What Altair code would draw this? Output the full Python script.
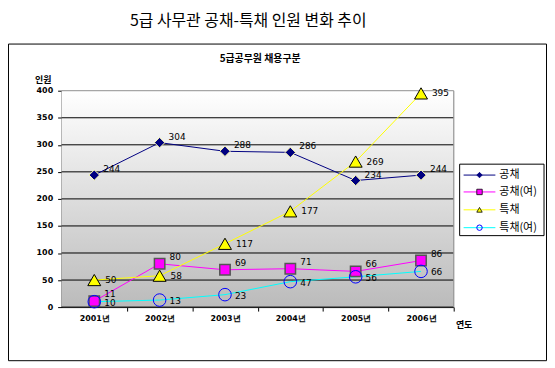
import altair as alt
import pandas as pd

years = ["2001년", "2002년", "2003년", "2004년", "2005년", "2006년"]
names = ["공채", "공채(여)", "특채", "특채(여)"]
gongchae = [244, 304, 288, 286, 234, 244]
gongchae_f = [11, 80, 69, 71, 66, 86]
teukchae = [50, 58, 117, 177, 269, 395]
teukchae_f = [10, 13, 23, 47, 56, 66]
y_ticks = [0, 50, 100, 150, 200, 250, 300, 350, 400]

series_values = [gongchae, gongchae_f, teukchae, teukchae_f]

styles = {
    "공채": dict(line="#000080", shape="diamond", size=110, fill="#000080", stroke="#FFFFB0", sw=1, dx=9, dy=-6),
    "공채(여)": dict(line="#FF00FF", shape="square", size=110, fill="#FF00FF", stroke="#555555", sw=1.5, dx=10, dy=-7),
    "특채": dict(line="#FFFF00", shape="triangle-up", size=170, fill="#FFFF00", stroke="#000000", sw=1, dx=11, dy=0),
    "특채(여)": dict(line="#00FFFF", shape="circle", size=160, fill=None, stroke="#0000FF", sw=1, dx=10, dy=1),
}

W, H = 395, 218
FONT = "DejaVu Sans"
KFONT = "Noto Sans CJK KR"

rows = []
for name, vals in zip(names, series_values):
    for yr, v in zip(years, vals):
        rows.append({"series": name, "year": yr, "value": v})
df = pd.DataFrame(rows)

x_axis = alt.Axis(
    title="연도", titleX=W + 10, titleY=18, titleAngle=0, titleAlign="center",
    titleBaseline="middle", titleFont=KFONT, titleFontSize=9, titleFontWeight="bold",
    labelAngle=0, labelFont=FONT, labelFontSize=8, labelFontWeight="bold",
    labelColor="#000000", labelPadding=4, tickSize=4, tickOffset=W / 12,
    labelOffset=-W / 12, tickColor="#000000", domainColor="#404040", grid=False,
)
y_axis = alt.Axis(
    values=y_ticks, title="인원", titleAngle=0, titleX=-19, titleY=-11,
    titleAlign="center", titleBaseline="middle", titleFont=KFONT, titleFontSize=9,
    titleFontWeight="bold", labelFont=FONT, labelFontSize=8, labelFontWeight="bold",
    labelColor="#000000", tickSize=4, tickColor="#000000", domainColor="#000000",
    grid=False, labelPadding=5,
)
y_scale = alt.Scale(domain=[0, 400], nice=False)

x_enc = alt.X("year:O", scale=alt.Scale(domain=years), axis=x_axis)
y_enc = alt.Y("value:Q", scale=y_scale, axis=y_axis)

one = pd.DataFrame({"a": [0]})

# gradient plot background
bg = alt.Chart(pd.DataFrame({"lo": [0], "hi": [400]})).mark_rect(
    color=alt.LinearGradient(
        gradient="linear", x1=0, x2=0, y1=0, y2=1,
        stops=[alt.GradientStop(offset=0, color="#FFFFFF"),
               alt.GradientStop(offset=1, color="#BBBBBB")],
    )
).encode(
    x=alt.value(0), x2=alt.value(W),
    y=alt.Y("hi:Q", scale=y_scale, axis=y_axis),
    y2="lo:Q",
)

grid_df = pd.DataFrame({"v": y_ticks, "c": ["#000000"] * 8 + ["#909090"]})
grid = alt.Chart(grid_df).mark_rule(strokeWidth=1).encode(
    y=alt.Y("v:Q", scale=y_scale, axis=y_axis),
    color=alt.Color("c:N", scale=None),
)

right_edge = alt.Chart(one).mark_rule(color="#909090").encode(
    x=alt.value(W), y=alt.value(0), y2=alt.value(H)
)

lines, points, texts = [], [], []
for name in names:
    st = styles[name]
    sub = alt.Chart(df).transform_filter(alt.datum.series == name)
    lines.append(sub.mark_line(color=st["line"], strokeWidth=1).encode(x=x_enc, y=y_enc))
    if st["fill"] is None:
        pm = sub.mark_point(shape=st["shape"], size=st["size"], filled=False,
                            stroke=st["stroke"], strokeWidth=st["sw"], opacity=1)
    else:
        pm = sub.mark_point(shape=st["shape"], size=st["size"], filled=True,
                            fill=st["fill"], stroke=st["stroke"], strokeWidth=st["sw"],
                            opacity=1, fillOpacity=1)
    points.append(pm.encode(x=x_enc, y=y_enc))
    texts.append(sub.mark_text(align="left", baseline="middle", dx=st["dx"], dy=st["dy"],
                               font=FONT, fontSize=9, color="#000000").encode(
        x=x_enc, y=y_enc, text="value:Q"))

# legend (drawn)
LX0, LX1, LY0, LY1 = 401, 486, 74, 146
legend_layers = [
    alt.Chart(one).mark_rect(fill="#FFFFFF", stroke="#000000", strokeWidth=1).encode(
        x=alt.value(LX0), x2=alt.value(LX1), y=alt.value(LY0), y2=alt.value(LY1))
]
entry_y = [85, 102, 120, 138]
for name, ey in zip(names, entry_y):
    st = styles[name]
    legend_layers.append(alt.Chart(one).mark_rule(color=st["line"], strokeWidth=1).encode(
        x=alt.value(405), x2=alt.value(437), y=alt.value(ey)))
    if st["fill"] is None:
        lp = alt.Chart(one).mark_point(shape=st["shape"], size=30, filled=False,
                                       stroke=st["stroke"], strokeWidth=1, opacity=1)
    else:
        lp = alt.Chart(one).mark_point(shape=st["shape"], size=30, filled=True,
                                       fill=st["fill"], stroke="#000000" if name != "공채" else st["fill"],
                                       strokeWidth=0.8, opacity=1)
    legend_layers.append(lp.encode(x=alt.value(421), y=alt.value(ey)))
    legend_layers.append(alt.Chart(one).mark_text(
        text=name, align="left", baseline="middle", font=KFONT, fontSize=11, color="#000000"
    ).encode(x=alt.value(441), y=alt.value(ey)))

# outer frame and titles
frame = alt.Chart(one).mark_rect(fill="#FFFFFF", fillOpacity=0, stroke="#000000", strokeWidth=1).encode(
    x=alt.value(-53.5), x2=alt.value(488.5), y=alt.value(-47), y2=alt.value(272))
main_title = alt.Chart(one).mark_text(
    text="5급 사무관 공채-특채 인원 변화 추이", align="center", baseline="top",
    font=KFONT, fontSize=16, color="#000000"
).encode(x=alt.value(188), y=alt.value(-78))
sub_title = alt.Chart(one).mark_text(
    text="5급공무원 채용구분", align="center", baseline="middle",
    font=KFONT, fontSize=10, fontWeight="bold", color="#000000"
).encode(x=alt.value(200), y=alt.value(-32))

chart = alt.layer(
    bg, grid, right_edge, *lines, *points, *texts, *legend_layers, frame, main_title, sub_title
).properties(
    width=W, height=H, padding={"top": 4, "left": 0, "right": 0, "bottom": 0}
).configure_view(stroke=None).configure(background="#FFFFFF")

chart.save("out.html", embed_options={"renderer": "svg", "actions": False})
